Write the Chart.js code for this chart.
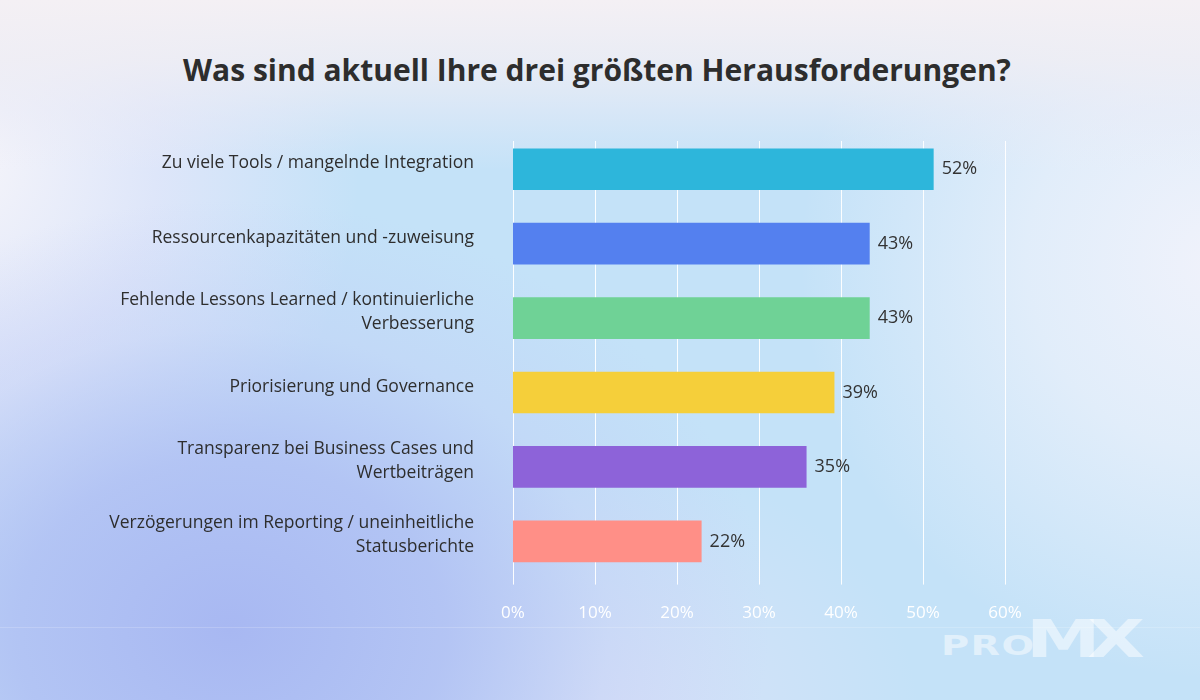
<!DOCTYPE html>
<html>
<head>
<meta charset="utf-8">
<script src="https://cdn.jsdelivr.net/npm/chart.js@4"></script>
<style>
  html, body { margin: 0; padding: 0; }
  body {
    width: 1200px; height: 700px; overflow: hidden; position: relative;
    background:
      radial-gradient(ellipse 540px 430px at 230px 630px, rgba(168,184,242,1) 0%, rgba(174,189,243,0.8) 40%, rgba(190,200,245,0.35) 70%, rgba(190,200,245,0) 100%),
      radial-gradient(ellipse 300px 260px at 620px 720px, rgba(218,226,248,0.9) 0%, rgba(218,226,248,0) 100%),
      linear-gradient(180deg, rgba(244,240,244,1) 0px, rgba(240,238,244,0.85) 60px, rgba(236,236,246,0.5) 110px, rgba(236,236,246,0) 170px),
      radial-gradient(ellipse 420px 420px at 1220px 260px, rgba(240,242,251,1) 0%, rgba(238,242,251,0.7) 45%, rgba(236,242,251,0) 100%),
      radial-gradient(ellipse 400px 420px at -40px 160px, rgba(246,245,250,1) 0%, rgba(230,231,250,0.75) 50%, rgba(220,224,249,0) 100%),
      #c4e2f8;
  }
  .title { position: absolute; left: 0; top: 50px; width: 1194px; text-align: center; font-family: "Open Sans", sans-serif; font-weight: 700; font-size: 30px; line-height: 40px; color: #2d2d2d; white-space: nowrap; }
  #wrap { position: absolute; left: 0; top: 0; width: 1200px; height: 700px; }
  .hline { position: absolute; left: 0; top: 627px; width: 1200px; height: 1px; background: rgba(255,255,255,0.18); }
  .logo { position: absolute; color: rgba(255,255,255,0.5); font-family: "DejaVu Sans", sans-serif; font-weight: bold; white-space: nowrap; transform-origin: left bottom; }
  .pro { left: 941px; top: 631px; font-size: 27px; line-height: 30px; letter-spacing: 1px; transform: scaleX(1.42); }
  .mx { left: 1026px; top: 612px; font-size: 51px; line-height: 56px; letter-spacing: -9px; transform: scaleX(1.47); }
</style>
</head>
<body>
<div class="hline"></div>
<div class="logo pro">PRO</div>
<div class="logo mx">MX</div>
<div class="title" id="title"></div>
<div id="wrap"><canvas id="c" width="1200" height="700"></canvas></div>
<script>
const titleText = "Was sind aktuell Ihre drei größten Herausforderungen?";
const categories = [
  "Zu viele Tools / mangelnde Integration",
  "Ressourcenkapazitäten und -zuweisung",
  ["Fehlende Lessons Learned / kontinuierliche", "Verbesserung"],
  "Priorisierung und Governance",
  ["Transparenz bei Business Cases und", "Wertbeiträgen"],
  ["Verzögerungen im Reporting / uneinheitliche", "Statusberichte"]
];
const values = [51.3, 43.5, 43.5, 39.2, 35.8, 23.0];
const valueLabels = ["52%", "43%", "43%", "39%", "35%", "22%"];
const barColors = ["#2db6db", "#5480ef", "#6fd296", "#f5cf3a", "#8d63d9", "#ff8f87"];
const xTicks = [0, 10, 20, 30, 40, 50, 60];

document.getElementById('title').textContent = titleText;

const gridPlugin = {
  id: 'customGrid',
  beforeDatasetsDraw(chart) {
    const ctx = chart.ctx;
    const area = chart.chartArea;
    const xs = chart.scales.x;
    ctx.save();
    ctx.strokeStyle = "rgba(255,255,255,0.95)";
    ctx.lineWidth = 1;
    xTicks.forEach(v => {
      const x = Math.round(xs.getPixelForValue(v)) + 0.5;
      ctx.beginPath();
      ctx.moveTo(x, area.top + 9);
      ctx.lineTo(x, area.bottom + 6);
      ctx.stroke();
    });
    ctx.restore();
  }
};

const valueLabelPlugin = {
  id: 'valueLabels',
  afterDatasetsDraw(chart) {
    const ctx = chart.ctx;
    const meta = chart.getDatasetMeta(0);
    ctx.save();
    ctx.font = "500 18px 'Open Sans'";
    ctx.fillStyle = "#333333";
    ctx.textAlign = "left";
    ctx.textBaseline = "middle";
    meta.data.forEach((bar, i) => {
      ctx.fillText(valueLabels[i], bar.x + 8, bar.y);
    });
    ctx.restore();
  }
};

new Chart(document.getElementById('c'), {
  type: 'bar',
  data: {
    labels: categories,
    datasets: [{
      data: values,
      backgroundColor: barColors,
      borderWidth: 0,
      barPercentage: 0.56,
      categoryPercentage: 1.0
    }]
  },
  plugins: [gridPlugin, valueLabelPlugin],
  options: {
    indexAxis: 'y',
    responsive: false,
    animation: false,
    devicePixelRatio: 1,
    layout: { padding: { left: 0, right: 195, top: 132, bottom: 53 } },
    plugins: {
      legend: { display: false },
      tooltip: { enabled: false },
      title: { display: false }
    },
    scales: {
      x: {
        min: 0, max: 60,
        afterBuildTicks: (axis) => { axis.ticks = xTicks.map(v => ({ value: v })); },
        grid: { display: false, drawTicks: false },
        border: { display: false },
        ticks: {
          color: "#ffffff",
          padding: 24,
          font: { family: "'Open Sans'", size: 17 },
          callback: (v) => v + "%"
        }
      },
      y: {
        afterFit: (axis) => { axis.width = 513; },
        grid: { display: false, drawTicks: false },
        border: { display: false },
        ticks: {
          color: "#2e2e2e",
          padding: 39,
          labelOffset: -6,
          font: { family: "'Open Sans'", size: 17.5, weight: '500', lineHeight: 1.37 }
        }
      }
    }
  }
});
</script>
</body>
</html>
